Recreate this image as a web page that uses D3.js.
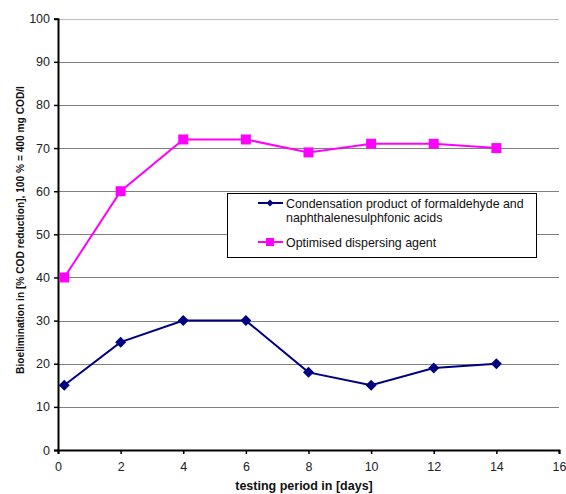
<!DOCTYPE html>
<html><head><meta charset="utf-8">
<script src="https://cdn.jsdelivr.net/npm/d3@7"></script>
<style>body{margin:0;background:#fff}svg{display:block;font-family:"Liberation Sans",Arial,sans-serif}</style>
</head><body><svg id="c" width="566" height="494"></svg>
<script>
const days = [0.2, 2, 4, 6, 8, 10, 12, 14];
const condensation = [15, 25, 30, 30, 18, 15, 19, 20];
const optimised = [40, 60, 72, 72, 69, 71, 71, 70];
const xTicks = [0, 2, 4, 6, 8, 10, 12, 14, 16];
const yTicks = [0, 10, 20, 30, 40, 50, 60, 70, 80, 90, 100];
const seriesNames = ["Condensation product of formaldehyde and\nnaphthalenesulphfonic acids", "Optimised dispersing agent"];

const svg = d3.select("#c");
const x = d3.scaleLinear().domain([0, 16]).range([58, 559]);
const y = d3.scaleLinear().domain([0, 100]).range([450, 18.7]);

// gridlines
svg.append("g").selectAll("line").data(yTicks.filter(d => d > 0)).join("line")
  .attr("x1", x(0)).attr("x2", x(16))
  .attr("y1", d => Math.round(y(d)) + 0.5).attr("y2", d => Math.round(y(d)) + 0.5)
  .attr("stroke", d => d === 100 ? "#bbb" : "#808080").attr("stroke-width", 1);

// y axis
const yAxis = svg.append("g").attr("transform", `translate(${x(0)},0)`)
  .call(d3.axisLeft(y).tickValues(yTicks).tickSize(4).tickPadding(4));
yAxis.select(".domain").attr("stroke", "#000").attr("stroke-width", 2);
yAxis.selectAll(".tick line").attr("stroke", "#000").attr("stroke-width", 1.5);
yAxis.selectAll("text").attr("font-size", 12.5).attr("fill", "#222").attr("font-family", "Liberation Sans, Arial, sans-serif");

// x axis
const xAxis = svg.append("g").attr("transform", `translate(0,${y(0)})`)
  .call(d3.axisBottom(x).tickValues(xTicks).tickSize(4).tickPadding(8));
xAxis.select(".domain").attr("stroke", "#000").attr("stroke-width", 2);
xAxis.selectAll(".tick line").attr("stroke", "#000").attr("stroke-width", 1.5);
xAxis.selectAll("text").attr("font-size", 12.5).attr("fill", "#222").attr("font-family", "Liberation Sans, Arial, sans-serif");

// titles
svg.append("text").attr("x", 304).attr("y", 490).attr("text-anchor", "middle")
  .attr("font-size", 12.5).attr("font-weight", "bold").attr("fill", "#111").text("testing period in [days]");
svg.append("text").attr("transform", `translate(24,230) rotate(-90)`)
  .attr("text-anchor", "middle").attr("font-size", 10.2).attr("font-weight", "bold").attr("fill", "#111")
  .text("Bioelimination in [% COD reduction], 100 % = 400 mg COD/l");

const line = d3.line().x((d, i) => x(days[i])).y(d => y(d));

// series
const diamondPath = r => `M0,${-r}L${r},0L0,${r}L${-r},0Z`;
svg.append("path").datum(condensation).attr("d", line).attr("fill", "none").attr("stroke", "#000080").attr("stroke-width", 2);
svg.append("g").selectAll("path").data(condensation).join("path")
  .attr("transform", (d, i) => `translate(${x(days[i])},${y(d)})`)
  .attr("d", diamondPath(5.5)).attr("fill", "#000080");

svg.append("path").datum(optimised).attr("d", line).attr("fill", "none").attr("stroke", "#FF00FF").attr("stroke-width", 2);
svg.append("g").selectAll("rect").data(optimised).join("rect")
  .attr("x", (d, i) => x(days[i]) - 5).attr("y", d => y(d) - 5)
  .attr("width", 10).attr("height", 10).attr("fill", "#FF00FF");

// legend
const lg = svg.append("g");
lg.append("rect").attr("x", 227.5).attr("y", 193.5).attr("width", 309).attr("height", 64)
  .attr("fill", "#fff").attr("stroke", "#000").attr("stroke-width", 1);
const lgColors = ["#000080", "#FF00FF"];
const lgY = [203, 242];
seriesNames.forEach((name, i) => {
  lg.append("line").attr("x1", 258).attr("x2", 283).attr("y1", lgY[i]).attr("y2", lgY[i])
    .attr("stroke", lgColors[i]).attr("stroke-width", 2);
  if (i === 0) {
    lg.append("path").attr("transform", `translate(270,${lgY[i]})`).attr("d", diamondPath(3.5)).attr("fill", lgColors[i]);
  } else {
    lg.append("rect").attr("x", 266).attr("y", lgY[i] - 4).attr("width", 8).attr("height", 8).attr("fill", lgColors[i]);
  }
  name.split("\n").forEach((ln, j) => {
    lg.append("text").attr("x", 286).attr("y", lgY[i] + 4.5 + j * 14)
      .attr("font-size", 12.4).attr("fill", "#111").text(ln);
  });
});
</script></body></html>
